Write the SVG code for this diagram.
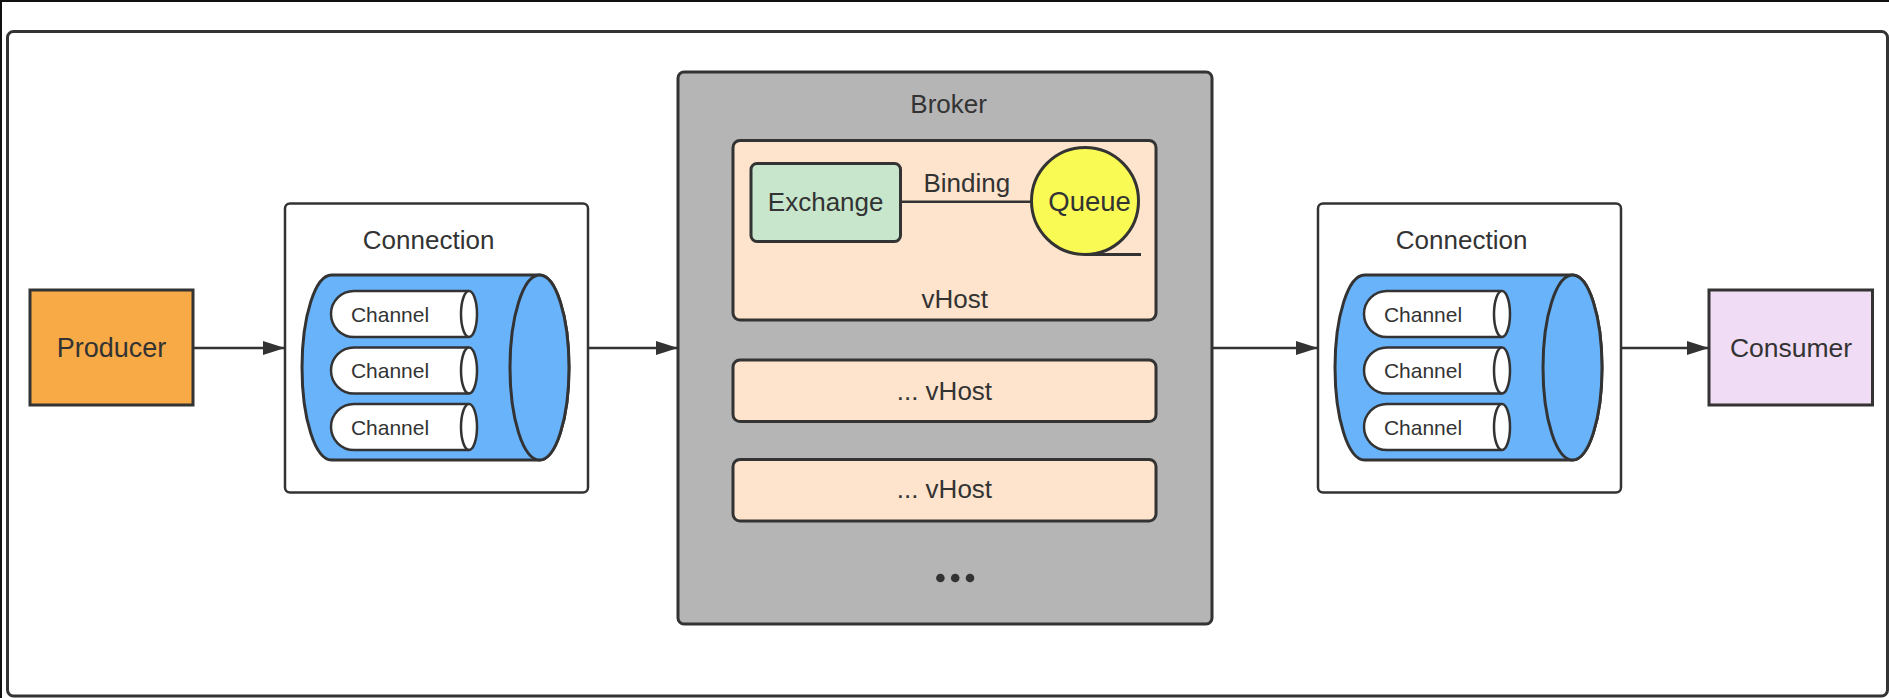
<svg xmlns="http://www.w3.org/2000/svg" width="1889" height="698" viewBox="0 0 1889 698">
<defs>
<style>
.t{font-family:"Liberation Sans",Arial,Helvetica,sans-serif;fill:#333;text-anchor:middle;font-size:26px}
.ch{font-size:21px}
.box{stroke:#333;stroke-width:3}
.thin{stroke:#333;stroke-width:2.5}
.conn{stroke:#333;stroke-width:2.5;fill:none}
.blue{fill:#68B3FA}
.chan{fill:#fff}
.vh{fill:#FEE4CC}
</style>
<marker id="arr" markerUnits="userSpaceOnUse" markerWidth="22" markerHeight="14" refX="22" refY="7" orient="auto">
<path d="M0,0 L22,7 L0,14 Z" fill="#333"/>
</marker>
<g id="channels">
<path d="M469,0 H354 A23,23 0 0 0 354,46 H469" class="thin chan"/>
<ellipse cx="469" cy="23" rx="8" ry="23" class="thin chan"/>
<text x="390" y="30.7" class="t ch">Channel</text>
</g>
</defs>
<rect width="1889" height="698" fill="#fff"/>
<path d="M1,698 V1 H1889" fill="none" stroke="#111" stroke-width="2"/>
<rect x="7.5" y="31.5" width="1880" height="664.5" rx="6" fill="#fff" stroke="#333" stroke-width="3"/>

<g id="connectors">
<line x1="193" y1="348" x2="285" y2="348" class="conn" marker-end="url(#arr)"/>
<line x1="588" y1="348" x2="678" y2="348" class="conn" marker-end="url(#arr)"/>
<line x1="1212" y1="348" x2="1318" y2="348" class="conn" marker-end="url(#arr)"/>
<line x1="1621" y1="348" x2="1709" y2="348" class="conn" marker-end="url(#arr)"/>
</g>

<g id="producer">
<rect x="30" y="290" width="163" height="115" fill="#F7AA46" class="box"/>
<text x="111.5" y="357" class="t" style="font-size:27px">Producer</text>
</g>

<g id="connection1">
<rect x="285" y="203.5" width="303" height="289" rx="5" fill="#fff" class="thin"/>
<text x="428.6" y="249" class="t">Connection</text>
<path d="M331.5,275 H539.5 A29.5,92.5 0 0 1 539.5,460 H331.5 A29.5,92.5 0 0 1 331.5,275 Z" class="box blue"/>
<ellipse cx="539.5" cy="367.5" rx="29.5" ry="92.5" class="box blue"/>
<use href="#channels" y="291"/>
<use href="#channels" y="347.5"/>
<use href="#channels" y="404"/>
</g>

<g id="broker">
<rect x="678" y="72" width="534" height="552" rx="6" fill="#B5B5B5" class="box"/>
<text x="948.6" y="113.3" class="t">Broker</text>
</g>

<g id="vhost1">
<rect x="733" y="140.5" width="423" height="179.5" rx="7" class="box vh"/>
<text x="954.8" y="308.3" class="t">vHost</text>
</g>

<g id="exchange">
<rect x="751" y="163.5" width="149.5" height="78" rx="6" fill="#C7E6CC" class="box"/>
<text x="825.7" y="210.7" class="t">Exchange</text>
</g>

<g id="binding">
<line x1="900" y1="201.7" x2="1031.5" y2="201.7" class="conn" stroke-width="3"/>
<text x="966.8" y="191.7" class="t">Binding</text>
</g>

<g id="queue">
<line x1="1085" y1="254.5" x2="1141" y2="254.5" stroke="#333" stroke-width="3"/>
<circle cx="1085" cy="201" r="53.5" fill="#FAFA55" class="box"/>
<text x="1089.6" y="210.5" class="t" style="font-size:27.5px">Queue</text>
</g>

<g id="vhost2">
<rect x="733" y="360" width="423" height="61.5" rx="7" class="box vh"/>
<text x="944.4" y="400" class="t">... vHost</text>
</g>

<g id="vhost3">
<rect x="733" y="459.5" width="423" height="61.5" rx="7" class="box vh"/>
<text x="944.4" y="498.3" class="t">... vHost</text>
</g>

<g id="more">
<circle cx="940.4" cy="578" r="4.3" fill="#333"/>
<circle cx="955.2" cy="578" r="4.3" fill="#333"/>
<circle cx="970" cy="578" r="4.3" fill="#333"/>
</g>

<g id="connection2">
<rect x="1318" y="203.5" width="303" height="289" rx="5" fill="#fff" class="thin"/>
<text x="1461.6" y="249" class="t">Connection</text>
<path d="M1364.5,275 H1572.5 A29.5,92.5 0 0 1 1572.5,460 H1364.5 A29.5,92.5 0 0 1 1364.5,275 Z" class="box blue"/>
<ellipse cx="1572.5" cy="367.5" rx="29.5" ry="92.5" class="box blue"/>
<use href="#channels" x="1033" y="291"/>
<use href="#channels" x="1033" y="347.5"/>
<use href="#channels" x="1033" y="404"/>
</g>

<g id="consumer">
<rect x="1709" y="290" width="163.5" height="115" fill="#F0DCF4" class="box"/>
<text x="1791" y="357" class="t" style="font-size:26.5px">Consumer</text>
</g>
</svg>
